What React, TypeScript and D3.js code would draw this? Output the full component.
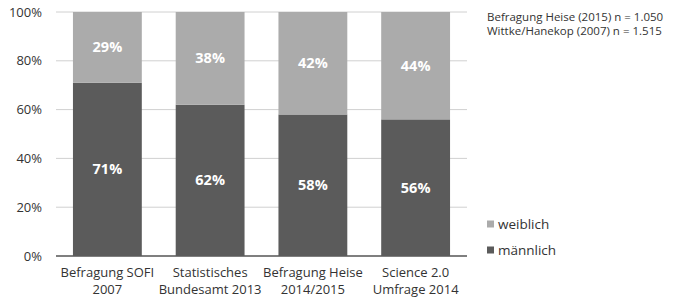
import React from 'react';
import * as d3 from 'd3';

const categories = [
	['Befragung SOFI', '2007'],
	['Statistisches', 'Bundesamt 2013'],
	['Befragung Heise', '2014/2015'],
	['Science 2.0', 'Umfrage 2014'],
];
const maennlich = [71, 62, 58, 56];
const weiblich = [29, 38, 42, 44];
const yTicks = [0, 20, 40, 60, 80, 100];
const notes = ['Befragung Heise (2015) n = 1.050', 'Wittke/Hanekop (2007) n = 1.515'];

const width = 673;
const height = 300;
const margin = { top: 12, right: 206, bottom: 44, left: 56 };
const dark = '#5b5b5b';
const light = '#ababab';
const font = '"Open Sans", sans-serif';

const App: React.FC = () => {
	const x = d3
		.scaleBand<number>()
		.domain(categories.map((_, i) => i))
		.range([margin.left, width - margin.right])
		.paddingInner(0.33)
		.paddingOuter(0.165);
	const y = d3
		.scaleLinear()
		.domain([0, 100])
		.range([height - margin.bottom, margin.top]);

	return (
		<svg width={width} height={height} style={{ position: 'absolute', left: 0, top: 0, fontFamily: font }}>
			{yTicks.map((t) => (
				<g key={t}>
					<line
						x1={margin.left}
						x2={width - margin.right}
						y1={y(t)}
						y2={y(t)}
						stroke={t === 0 ? '#555' : '#d0d0d0'}
						strokeWidth={t === 0 ? 1.5 : 1}
					/>
					<text x={42} y={y(t)} dy="0.35em" textAnchor="end" fontSize={13} fill="#333">
						{t}%
					</text>
				</g>
			))}
			{categories.map((c, i) => {
				const bx = x(i) as number;
				const bw = x.bandwidth();
				const m = maennlich[i];
				const w = weiblich[i];
				return (
					<g key={i}>
						<rect x={bx} y={y(m)} width={bw} height={y(0) - y(m)} fill={dark} />
						<rect x={bx} y={y(m + w)} width={bw} height={y(m) - y(m + w)} fill={light} />
						<text x={bx + bw / 2} y={(y(0) + y(m)) / 2} dy="0.35em" textAnchor="middle" fontSize={14.5} fontWeight="bold" fill="#fff">
							{m}%
						</text>
						<text x={bx + bw / 2} y={(y(m) + y(m + w)) / 2} dy="0.35em" textAnchor="middle" fontSize={14.5} fontWeight="bold" fill="#fff">
							{w}%
						</text>
						{c.map((line, j) => (
							<text key={j} x={bx + bw / 2} y={272 + j * 17} dy="0.35em" textAnchor="middle" fontSize={13} fill="#333">
								{line}
							</text>
						))}
					</g>
				);
			})}
			{notes.map((n, i) => (
				<text key={i} x={487} y={17 + i * 14} dy="0.35em" fontSize={11.5} fill="#333">
					{n}
				</text>
			))}
			{[
				{ label: 'weiblich', color: light, yy: 224 },
				{ label: 'männlich', color: dark, yy: 250 },
			].map((l) => (
				<g key={l.label}>
					<rect x={487} y={l.yy - 3.5} width={7} height={7} fill={l.color} />
					<text x={498} y={l.yy} dy="0.35em" fontSize={13.5} fill="#333">
						{l.label}
					</text>
				</g>
			))}
		</svg>
	);
};

export default App;
